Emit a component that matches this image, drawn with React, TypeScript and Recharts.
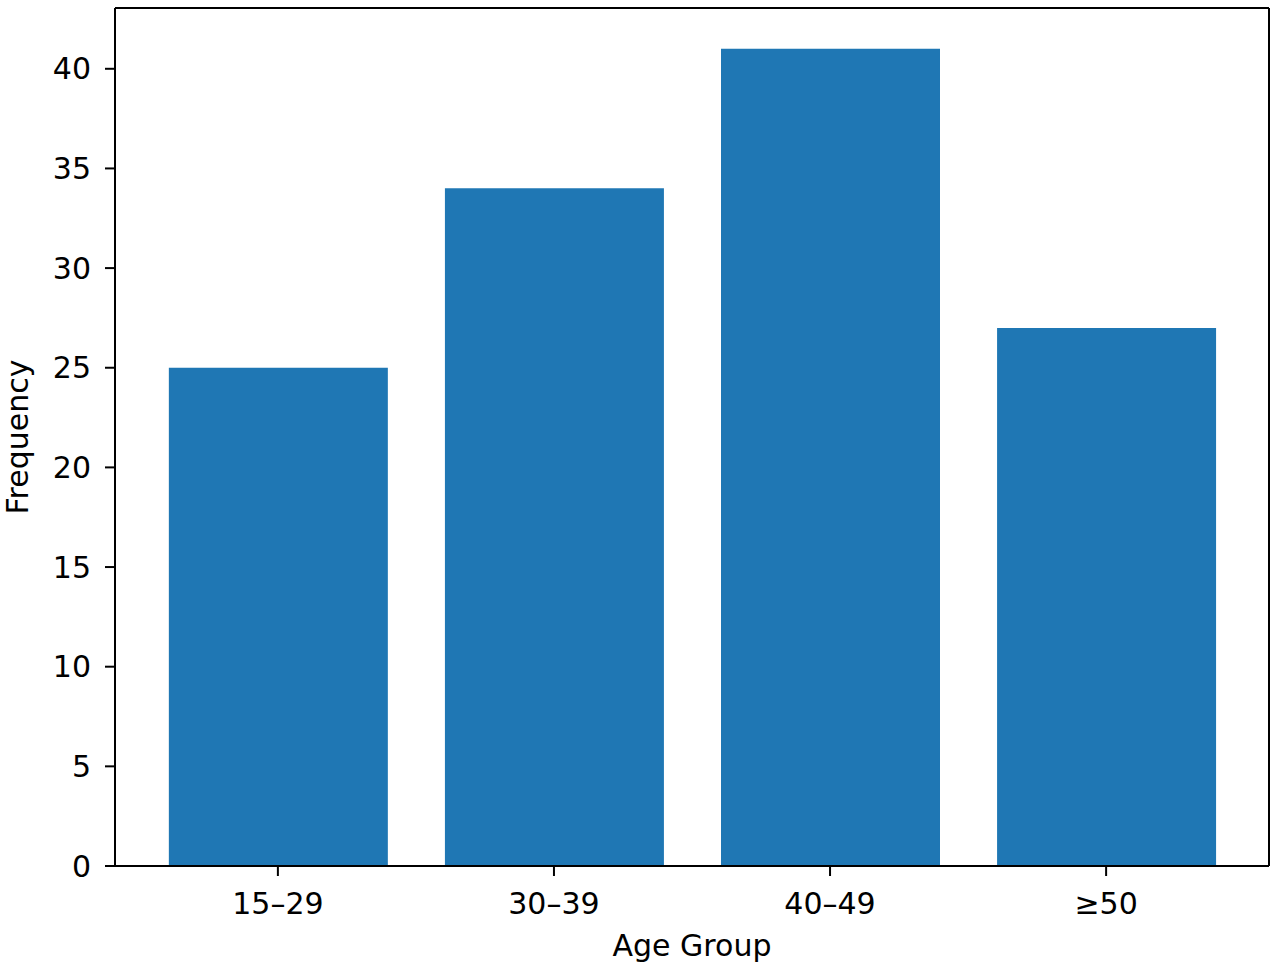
import React from 'react'
import { BarChart, Bar, XAxis, YAxis, ReferenceLine } from 'recharts'

// Age group frequency bar chart (matplotlib look)

const CATEGORIES = ['15–29', '30–39', '40–49', '≥50']
const FREQUENCIES = [25, 34, 41, 27]
const Y_TICKS = [0, 5, 10, 15, 20, 25, 30, 35, 40]
const X_POSITIONS = [0, 1, 2, 3]

const X_DOMAIN: [number, number] = [-0.59, 3.59]
const Y_DOMAIN: [number, number] = [0, 43.05]

const FONT = '"DejaVu Sans", sans-serif'
const FONT_SIZE = 30
const BAR_COLOR = '#1f77b4'

const data = X_POSITIONS.map((x, i) => ({
  x,
  name: CATEGORIES[i],
  value: FREQUENCIES[i],
}))

const tickStyle = { fill: '#000', fontSize: FONT_SIZE, fontFamily: FONT }
const lineStyle = { stroke: '#000', strokeWidth: 2 }

export default function App() {
  return (
    <div style={{ position: 'absolute', left: 0, top: 0, background: '#fff' }}>
      <BarChart
        width={1280}
        height={972}
        data={data}
        margin={{ top: 8, right: 11, left: 0, bottom: 0 }}
      >
        <XAxis
          dataKey="x"
          type="number"
          domain={X_DOMAIN}
          ticks={X_POSITIONS}
          tickFormatter={(v: number) => CATEGORIES[v] ?? ''}
          height={106}
          tick={tickStyle}
          tickSize={10}
          tickMargin={17}
          tickLine={lineStyle}
          axisLine={lineStyle}
          allowDataOverflow
          label={{
            value: 'Age Group',
            position: 'insideBottom',
            offset: 16,
            style: { fill: '#000', fontSize: FONT_SIZE, fontFamily: FONT },
          }}
        />
        <YAxis
          type="number"
          domain={Y_DOMAIN}
          ticks={Y_TICKS}
          width={115}
          tick={tickStyle}
          tickSize={10}
          tickMargin={14}
          tickLine={lineStyle}
          axisLine={lineStyle}
          allowDataOverflow
          label={{
            value: 'Frequency',
            angle: -90,
            position: 'insideLeft',
            offset: 17,
            style: { fill: '#000', fontSize: FONT_SIZE, fontFamily: FONT, textAnchor: 'middle' },
          }}
        />
        <Bar dataKey="value" fill={BAR_COLOR} barSize={219} isAnimationActive={false} />
        {/* top and right spines */}
        <ReferenceLine y={Y_DOMAIN[1]} stroke="#000" strokeWidth={2} ifOverflow="extendDomain" />
        <ReferenceLine x={X_DOMAIN[1]} stroke="#000" strokeWidth={2} ifOverflow="extendDomain" />
      </BarChart>
    </div>
  )
}
